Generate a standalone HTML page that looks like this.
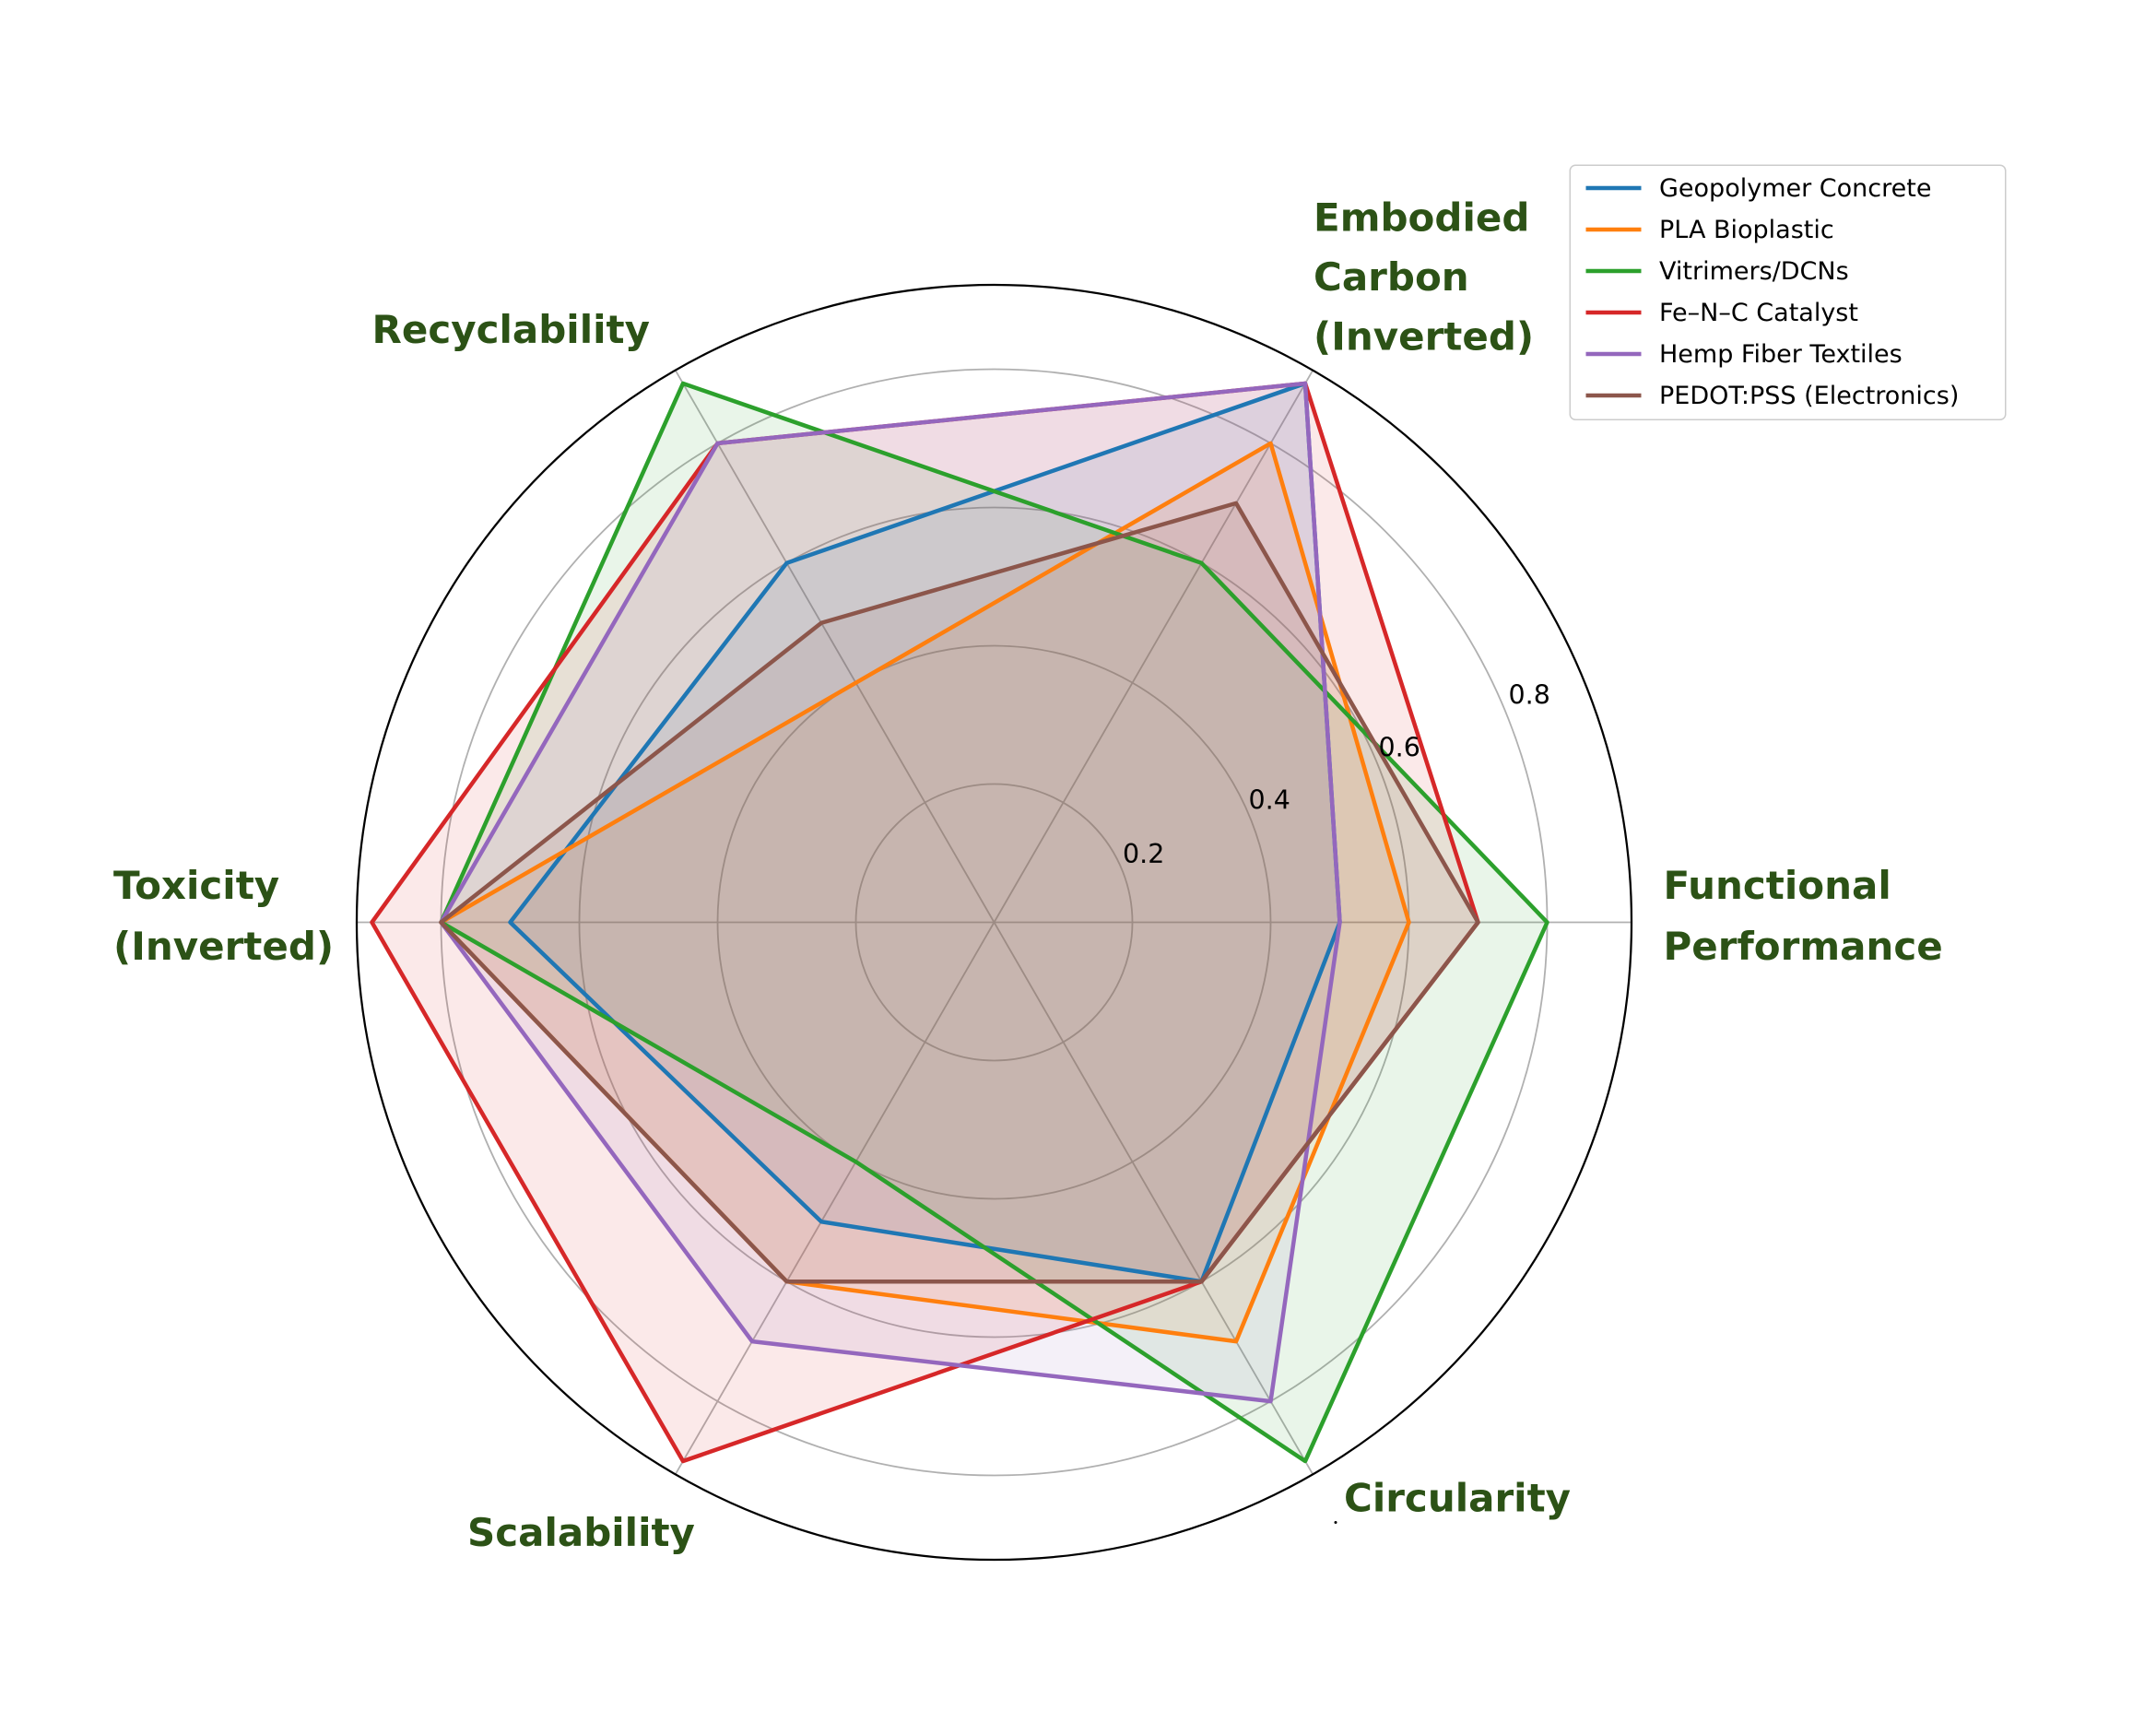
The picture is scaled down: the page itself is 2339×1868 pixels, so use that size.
<!DOCTYPE html>
<html><head><meta charset="utf-8"><style>
html,body{margin:0;padding:0;background:#fff}
svg{display:block}
</style></head><body>
<svg xmlns="http://www.w3.org/2000/svg" width="2339" height="1868" viewBox="0 0 1559.33 1245.33">
<rect width="1559.33" height="1245.33" fill="#fff"/>
<g fill="none" stroke="#b0b0b0" stroke-width="1.2">
<circle cx="719" cy="667" r="100"/><circle cx="719" cy="667" r="200"/><circle cx="719" cy="667" r="300"/><circle cx="719" cy="667" r="400"/>
<line x1="719" y1="667" x2="1180" y2="667"/>
<line x1="719" y1="667" x2="949.5" y2="267.8"/>
<line x1="719" y1="667" x2="488.5" y2="267.8"/>
<line x1="719" y1="667" x2="258" y2="667"/>
<line x1="719" y1="667" x2="488.5" y2="1066.2"/>
<line x1="719" y1="667" x2="949.5" y2="1066.2"/>
</g>
<g stroke="none" fill-opacity="0.1">
<polygon fill="#1f77b4" points="969,667 944,277.3 569,407.2 369,667 594,883.5 869,926.8"/>
<polygon fill="#ff7f0e" points="1019,667 919,320.6 619,493.8 319,667 569,926.8 894,970.1"/>
<polygon fill="#2ca02c" points="1119,667 869,407.2 494,277.3 319,667 619,840.2 944,1056.7"/>
<polygon fill="#d62728" points="1069,667 944,277.3 519,320.6 269,667 494,1056.7 869,926.8"/>
<polygon fill="#9467bd" points="969,667 944,277.3 519,320.6 319,667 544,970.1 919,1013.4"/>
<polygon fill="#8c564b" points="1069,667 894,363.9 594,450.5 319,667 569,926.8 869,926.8"/>
</g>
<g fill="none" stroke-width="3" stroke-linejoin="round">
<polygon stroke="#1f77b4" points="969,667 944,277.3 569,407.2 369,667 594,883.5 869,926.8"/>
<polygon stroke="#ff7f0e" points="1019,667 919,320.6 619,493.8 319,667 569,926.8 894,970.1"/>
<polygon stroke="#2ca02c" points="1119,667 869,407.2 494,277.3 319,667 619,840.2 944,1056.7"/>
<polygon stroke="#d62728" points="1069,667 944,277.3 519,320.6 269,667 494,1056.7 869,926.8"/>
<polygon stroke="#9467bd" points="969,667 944,277.3 519,320.6 319,667 544,970.1 919,1013.4"/>
<polygon stroke="#8c564b" points="1069,667 894,363.9 594,450.5 319,667 569,926.8 869,926.8"/>
</g>
<circle cx="719" cy="667" r="461" fill="none" stroke="#000" stroke-width="1.5"/>
<g font-family="DejaVu Sans, Liberation Sans, sans-serif" font-size="19" fill="#000">
<text x="812" y="624">0.2</text><text x="903" y="585">0.4</text><text x="997" y="547">0.6</text><text x="1091" y="509">0.8</text>
</g>
<g font-family="DejaVu Sans, Liberation Sans, sans-serif" font-size="28" font-weight="bold" fill="#2c5216">
<text x="1203" y="650">Functional</text><text x="1203" y="694">Performance</text>
<text x="950" y="167">Embodied</text><text x="950" y="210">Carbon</text><text x="950" y="253">(Inverted)</text>
<text x="269" y="248">Recyclability</text>
<text x="82" y="650">Toxicity</text><text x="82" y="694">(Inverted)</text>
<text x="338" y="1118">Scalability</text>
<text x="972" y="1093">Circularity</text>
</g>
<circle cx="966" cy="1101" r="1" fill="#000"/>
<rect x="1135.5" y="119.5" width="315" height="184" rx="4" fill="#fff" fill-opacity="0.8" stroke="#ccc"/>
<g stroke-width="3">
<line x1="1147" y1="136" x2="1187" y2="136" stroke="#1f77b4"/>
<line x1="1147" y1="166" x2="1187" y2="166" stroke="#ff7f0e"/>
<line x1="1147" y1="196" x2="1187" y2="196" stroke="#2ca02c"/>
<line x1="1147" y1="226" x2="1187" y2="226" stroke="#d62728"/>
<line x1="1147" y1="256" x2="1187" y2="256" stroke="#9467bd"/>
<line x1="1147" y1="286" x2="1187" y2="286" stroke="#8c564b"/>
</g>
<g font-family="DejaVu Sans, Liberation Sans, sans-serif" font-size="18" fill="#000">
<text x="1200" y="142">Geopolymer Concrete</text>
<text x="1200" y="172">PLA Bioplastic</text>
<text x="1200" y="202">Vitrimers/DCNs</text>
<text x="1200" y="232">Fe–N–C Catalyst</text>
<text x="1200" y="262">Hemp Fiber Textiles</text>
<text x="1200" y="292">PEDOT:PSS (Electronics)</text>
</g>
</svg>
</body></html>
